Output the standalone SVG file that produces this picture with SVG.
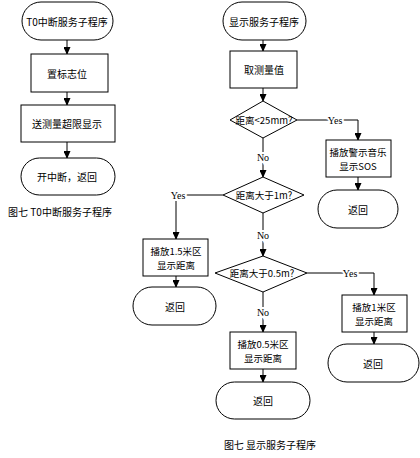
<svg xmlns="http://www.w3.org/2000/svg" width="420" height="458" viewBox="0 0 420 458">
<defs>
<style>
.s{fill:#fff;stroke:#000;stroke-width:1}
.t{font-family:"Noto Sans CJK SC","Noto Sans",sans-serif;font-size:10px;fill:#000;text-anchor:middle;dominant-baseline:central}
.m{font-size:9.5px}
.l{font-family:"Liberation Serif",serif;font-size:10px;fill:#000;text-anchor:middle;dominant-baseline:central;stroke:#fff;stroke-width:4;paint-order:stroke}
.c{fill:none;stroke:#000;stroke-width:1}
</style>
<marker id="a" markerWidth="8" markerHeight="7" refX="7" refY="3.5" orient="auto" markerUnits="userSpaceOnUse">
<path d="M0,0 L8,3.5 L0,7 Z" fill="#000"/>
</marker>
</defs>
<g id="connectors">
<path class="c" d="M67,40 V54" marker-end="url(#a)"/>
<path class="c" d="M67,92 V105" marker-end="url(#a)"/>
<path class="c" d="M67,142 V158" marker-end="url(#a)"/>
<path class="c" d="M263,40 V51" marker-end="url(#a)"/>
<path class="c" d="M263,88 V101" marker-end="url(#a)"/>
<path class="c" d="M263,138 V177" marker-end="url(#a)"/>
<path class="c" d="M297,120 H358 V140" marker-end="url(#a)"/>
<path class="c" d="M358,177 V190" marker-end="url(#a)"/>
<path class="c" d="M223,195 H176 V239" marker-end="url(#a)"/>
<path class="c" d="M176,276 V287" marker-end="url(#a)"/>
<path class="c" d="M263,213 V256" marker-end="url(#a)"/>
<path class="c" d="M307,273 H374 V295" marker-end="url(#a)"/>
<path class="c" d="M374,332 V344" marker-end="url(#a)"/>
<path class="c" d="M263,292 V332" marker-end="url(#a)"/>
<path class="c" d="M263,369 V382" marker-end="url(#a)"/>
<text class="l" x="335" y="120">Yes</text>
<text class="l" x="263" y="157">No</text>
<text class="l" x="178" y="195">Yes</text>
<text class="l" x="263" y="235">No</text>
<text class="l" x="350" y="273">Yes</text>
<text class="l" x="263" y="312">No</text>
</g>
<g id="t0start"><rect class="s" x="22" y="2" width="91" height="38" rx="19"/><text class="t" x="67" y="21">T0中断服务子程序</text></g>
<g id="setflag"><rect class="s" x="31" y="54" width="77" height="38"/><text class="t" x="67" y="73">置标志位</text></g>
<g id="sendover"><rect class="s" x="21" y="105" width="94" height="37"/><text class="t" x="67" y="123.5">送测量超限显示</text></g>
<g id="t0end"><rect class="s" x="21" y="158" width="94" height="37" rx="18.5"/><text class="t" x="67" y="176.5">开中断，返回</text></g>
<g id="cap1"><text class="t" x="60" y="211">图七 T0中断服务子程序</text></g>
<g id="dispstart"><rect class="s" x="223" y="2" width="83" height="38" rx="19"/><text class="t" x="264" y="21">显示服务子程序</text></g>
<g id="measure"><rect class="s" x="230" y="51" width="67" height="37"/><text class="t" x="264" y="69.5">取测量值</text></g>
<g id="d1"><path class="s" d="M263,101 L297,120 L263,138 L230,120 Z"/><text class="t m" x="264" y="120">距离&lt;25mm?</text></g>
<g id="sos"><rect class="s" x="326" y="140" width="65" height="37"/><text class="t m" x="358" y="152">播放警示音乐</text><text class="t m" x="358" y="165.5">显示SOS</text></g>
<g id="ret1"><rect class="s" x="318" y="190" width="80" height="38" rx="19"/><text class="t" x="358" y="209">返回</text></g>
<g id="d2"><path class="s" d="M263,177 L304,195 L263,213 L223,195 Z"/><text class="t m" x="264" y="195">距离大于1m?</text></g>
<g id="p15"><rect class="s" x="143" y="239" width="65" height="37"/><text class="t m" x="176" y="251">播放1.5米区</text><text class="t m" x="176" y="264.5">显示距离</text></g>
<g id="ret2"><rect class="s" x="133" y="287" width="83" height="38" rx="19"/><text class="t" x="175" y="306">返回</text></g>
<g id="d3"><path class="s" d="M263,256 L307,273 L263,292 L215,273 Z"/><text class="t m" x="262" y="273">距离大于0.5m?</text></g>
<g id="p1"><rect class="s" x="342" y="295" width="65" height="37"/><text class="t m" x="374" y="307">播放1米区</text><text class="t m" x="374" y="320.5">显示距离</text></g>
<g id="ret3"><rect class="s" x="328" y="344" width="91" height="38" rx="19"/><text class="t" x="373" y="363">返回</text></g>
<g id="p05"><rect class="s" x="230" y="332" width="66" height="37"/><text class="t m" x="263" y="344">播放0.5米区</text><text class="t m" x="263" y="357.5">显示距离</text></g>
<g id="ret4"><rect class="s" x="216" y="382" width="94" height="37" rx="18.5"/><text class="t" x="263" y="400.5">返回</text></g>
<g id="cap2"><text class="t" x="270" y="444">图七 显示服务子程序</text></g>
</svg>
